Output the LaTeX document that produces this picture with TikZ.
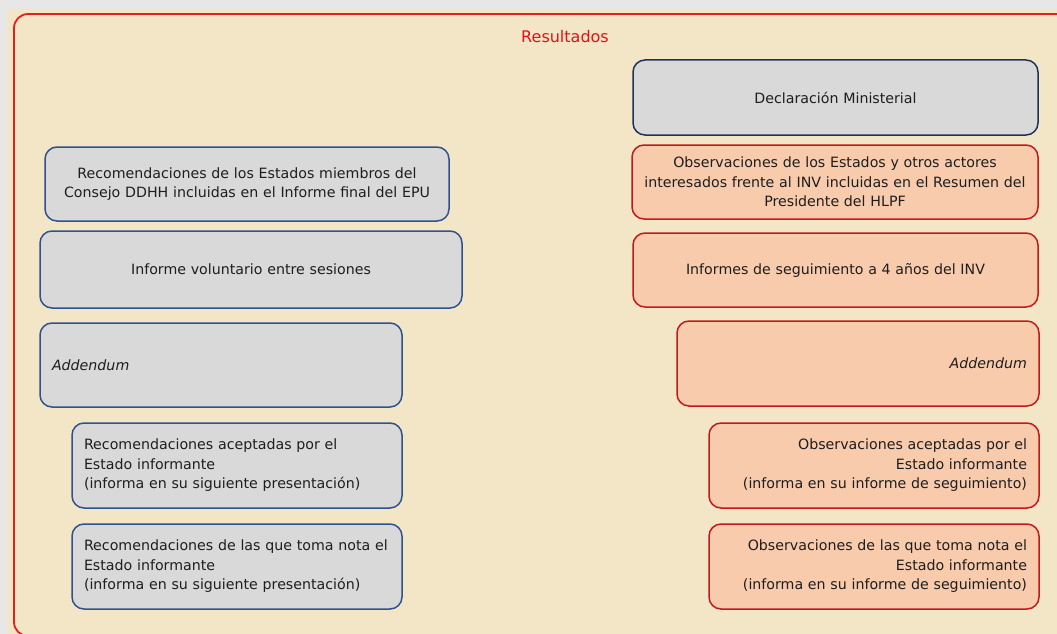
\documentclass[tikz,border=0pt]{standalone}
\usepackage{fontspec}
\setmainfont{DejaVu Sans}
\definecolor{fondogris}{RGB}{231,231,231}
\definecolor{fondobeige}{RGB}{242,230,199}
\definecolor{marcorojo}{RGB}{226,32,32}
\definecolor{titulorojo}{RGB}{232,16,20}
\definecolor{cajagris}{RGB}{217,217,217}
\definecolor{cajarosa}{RGB}{248,203,173}
\definecolor{bordeazul}{RGB}{47,82,143}
\definecolor{bordemarino}{RGB}{31,50,90}
\definecolor{borderojo}{RGB}{196,24,28}
\definecolor{texto}{RGB}{30,30,30}
\begin{document}
\begin{tikzpicture}[x = 1pt, y = -1pt,
  caja/.style = {rounded corners = 12pt, line width = 1.5pt, inner xsep = 12pt, inner ysep = 0pt, text = texto, font = \fontsize{14.2}{19.5}\selectfont},
  gris/.style = {caja, fill = cajagris, draw = bordeazul},
  rosa/.style = {caja, fill = cajarosa, draw = borderojo}]
\useasboundingbox (0,0) rectangle (1057,634);
\clip (0,0) rectangle (1057,634);
\fill[fondogris] (0,0) rectangle (1057,634);
\fill[fondobeige] (7,9) rectangle (1057,634);
\draw[draw = marcorojo, line width = 1.8pt, rounded corners = 14pt] (14,14) rectangle (1080,636);
\node[text = titulorojo, font = \fontsize{16}{19}\selectfont] (titulo) at (565,37) {Resultados};
\node[gris, minimum width = 404pt, text width = 380pt, minimum height = 74pt, align = center] (recEstados) at (247,184) {Recomendaciones de los Estados miembros del\\Consejo DDHH incluidas en el Informe final del EPU};
\node[gris, minimum width = 422pt, text width = 398pt, minimum height = 77pt, align = center] (informeVol) at (251,269.5) {Informe voluntario entre sesiones};
\node[gris, minimum width = 362pt, text width = 338pt, minimum height = 84pt, align = left] (addIzq) at (221,365) {\itshape Addendum};
\node[gris, minimum width = 330pt, text width = 306pt, minimum height = 85pt, align = left] (recAcept) at (237,465.5) {Recomendaciones aceptadas por el\\Estado informante\\(informa en su siguiente presentación)};
\node[gris, minimum width = 330pt, text width = 306pt, minimum height = 85pt, align = left] (recNota) at (237,566.5) {Recomendaciones de las que toma nota el\\Estado informante\\(informa en su siguiente presentación)};
\node[gris, draw = bordemarino, minimum width = 405pt, text width = 381pt, minimum height = 75pt, align = center] (declaracion) at (835.5,97.5) {Declaración Ministerial};
\node[rosa, minimum width = 406pt, text width = 382pt, minimum height = 74pt, align = center] (obsEstados) at (835,182) {Observaciones de los Estados y otros actores\\interesados frente al INV incluidas en el Resumen del\\Presidente del HLPF};
\node[rosa, minimum width = 405pt, text width = 381pt, minimum height = 74pt, align = center] (informesSeg) at (835.5,270) {Informes de seguimiento a 4 años del INV};
\node[rosa, minimum width = 362pt, text width = 338pt, minimum height = 85pt, align = right] (addDer) at (858,363.5) {\itshape Addendum};
\node[rosa, minimum width = 330pt, text width = 306pt, minimum height = 85pt, align = right] (obsAcept) at (874,465.5) {Observaciones aceptadas por el\\Estado informante\\(informa en su informe de seguimiento)};
\node[rosa, minimum width = 330pt, text width = 306pt, minimum height = 85pt, align = right] (obsNota) at (874,566.5) {Observaciones de las que toma nota el\\Estado informante\\(informa en su informe de seguimiento)};
\end{tikzpicture}
\end{document}
